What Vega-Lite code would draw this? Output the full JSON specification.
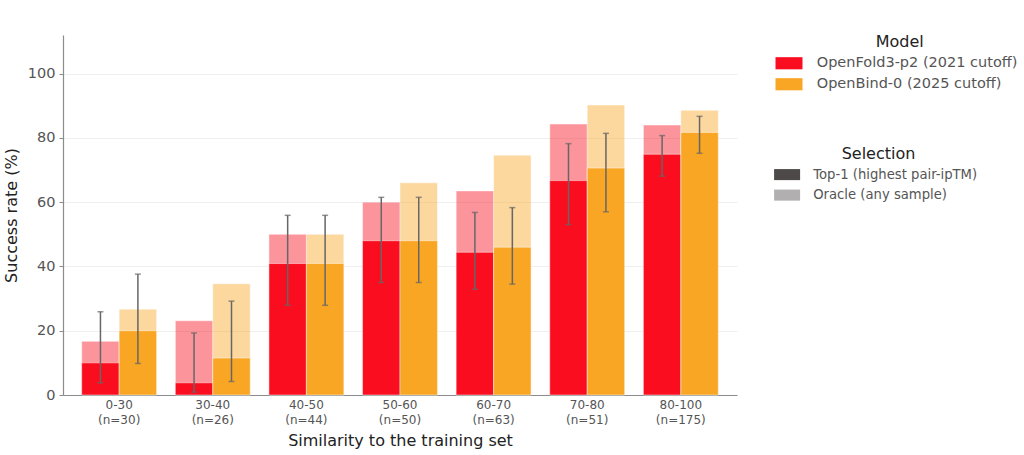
{
  "$schema": "https://vega.github.io/schema/vega-lite/v6.json",
  "width": 674,
  "height": 360,
  "autosize": "none",
  "padding": {"left": 63, "top": 35, "right": 287, "bottom": 60},
  "background": "white",
  "datasets": {
    "bars": [
      {"bin": "0-30 (n=30)", "model": "OpenFold3-p2 (2021 cutoff)", "sel": "Oracle (any sample)", "rate": 16.7},
      {"bin": "0-30 (n=30)", "model": "OpenBind-0 (2025 cutoff)", "sel": "Oracle (any sample)", "rate": 26.7},
      {"bin": "30-40 (n=26)", "model": "OpenFold3-p2 (2021 cutoff)", "sel": "Oracle (any sample)", "rate": 23.1},
      {"bin": "30-40 (n=26)", "model": "OpenBind-0 (2025 cutoff)", "sel": "Oracle (any sample)", "rate": 34.6},
      {"bin": "40-50 (n=44)", "model": "OpenFold3-p2 (2021 cutoff)", "sel": "Oracle (any sample)", "rate": 50.0},
      {"bin": "40-50 (n=44)", "model": "OpenBind-0 (2025 cutoff)", "sel": "Oracle (any sample)", "rate": 50.0},
      {"bin": "50-60 (n=50)", "model": "OpenFold3-p2 (2021 cutoff)", "sel": "Oracle (any sample)", "rate": 60.0},
      {"bin": "50-60 (n=50)", "model": "OpenBind-0 (2025 cutoff)", "sel": "Oracle (any sample)", "rate": 66.0},
      {"bin": "60-70 (n=63)", "model": "OpenFold3-p2 (2021 cutoff)", "sel": "Oracle (any sample)", "rate": 63.5},
      {"bin": "60-70 (n=63)", "model": "OpenBind-0 (2025 cutoff)", "sel": "Oracle (any sample)", "rate": 74.6},
      {"bin": "70-80 (n=51)", "model": "OpenFold3-p2 (2021 cutoff)", "sel": "Oracle (any sample)", "rate": 84.3},
      {"bin": "70-80 (n=51)", "model": "OpenBind-0 (2025 cutoff)", "sel": "Oracle (any sample)", "rate": 90.2},
      {"bin": "80-100 (n=175)", "model": "OpenFold3-p2 (2021 cutoff)", "sel": "Oracle (any sample)", "rate": 84.0},
      {"bin": "80-100 (n=175)", "model": "OpenBind-0 (2025 cutoff)", "sel": "Oracle (any sample)", "rate": 88.6},
      {"bin": "0-30 (n=30)", "model": "OpenFold3-p2 (2021 cutoff)", "sel": "Top-1 (highest pair-ipTM)", "rate": 10.0},
      {"bin": "0-30 (n=30)", "model": "OpenBind-0 (2025 cutoff)", "sel": "Top-1 (highest pair-ipTM)", "rate": 20.0},
      {"bin": "30-40 (n=26)", "model": "OpenFold3-p2 (2021 cutoff)", "sel": "Top-1 (highest pair-ipTM)", "rate": 3.8},
      {"bin": "30-40 (n=26)", "model": "OpenBind-0 (2025 cutoff)", "sel": "Top-1 (highest pair-ipTM)", "rate": 11.5},
      {"bin": "40-50 (n=44)", "model": "OpenFold3-p2 (2021 cutoff)", "sel": "Top-1 (highest pair-ipTM)", "rate": 40.9},
      {"bin": "40-50 (n=44)", "model": "OpenBind-0 (2025 cutoff)", "sel": "Top-1 (highest pair-ipTM)", "rate": 40.9},
      {"bin": "50-60 (n=50)", "model": "OpenFold3-p2 (2021 cutoff)", "sel": "Top-1 (highest pair-ipTM)", "rate": 48.0},
      {"bin": "50-60 (n=50)", "model": "OpenBind-0 (2025 cutoff)", "sel": "Top-1 (highest pair-ipTM)", "rate": 48.0},
      {"bin": "60-70 (n=63)", "model": "OpenFold3-p2 (2021 cutoff)", "sel": "Top-1 (highest pair-ipTM)", "rate": 44.4},
      {"bin": "60-70 (n=63)", "model": "OpenBind-0 (2025 cutoff)", "sel": "Top-1 (highest pair-ipTM)", "rate": 46.0},
      {"bin": "70-80 (n=51)", "model": "OpenFold3-p2 (2021 cutoff)", "sel": "Top-1 (highest pair-ipTM)", "rate": 66.7},
      {"bin": "70-80 (n=51)", "model": "OpenBind-0 (2025 cutoff)", "sel": "Top-1 (highest pair-ipTM)", "rate": 70.6},
      {"bin": "80-100 (n=175)", "model": "OpenFold3-p2 (2021 cutoff)", "sel": "Top-1 (highest pair-ipTM)", "rate": 74.9},
      {"bin": "80-100 (n=175)", "model": "OpenBind-0 (2025 cutoff)", "sel": "Top-1 (highest pair-ipTM)", "rate": 81.7}
    ],
    "errs": [
      {"bin": "0-30 (n=30)", "model": "OpenFold3-p2 (2021 cutoff)", "lo": 3.8, "hi": 25.9},
      {"bin": "0-30 (n=30)", "model": "OpenBind-0 (2025 cutoff)", "lo": 9.8, "hi": 37.6},
      {"bin": "30-40 (n=26)", "model": "OpenFold3-p2 (2021 cutoff)", "lo": 0.9, "hi": 19.3},
      {"bin": "30-40 (n=26)", "model": "OpenBind-0 (2025 cutoff)", "lo": 4.2, "hi": 29.2},
      {"bin": "40-50 (n=44)", "model": "OpenFold3-p2 (2021 cutoff)", "lo": 27.9, "hi": 55.9},
      {"bin": "40-50 (n=44)", "model": "OpenBind-0 (2025 cutoff)", "lo": 27.9, "hi": 55.9},
      {"bin": "50-60 (n=50)", "model": "OpenFold3-p2 (2021 cutoff)", "lo": 35.0, "hi": 61.5},
      {"bin": "50-60 (n=50)", "model": "OpenBind-0 (2025 cutoff)", "lo": 35.0, "hi": 61.5},
      {"bin": "60-70 (n=63)", "model": "OpenFold3-p2 (2021 cutoff)", "lo": 32.9, "hi": 56.8},
      {"bin": "60-70 (n=63)", "model": "OpenBind-0 (2025 cutoff)", "lo": 34.5, "hi": 58.3},
      {"bin": "70-80 (n=51)", "model": "OpenFold3-p2 (2021 cutoff)", "lo": 53.0, "hi": 78.2},
      {"bin": "70-80 (n=51)", "model": "OpenBind-0 (2025 cutoff)", "lo": 57.0, "hi": 81.4},
      {"bin": "80-100 (n=175)", "model": "OpenFold3-p2 (2021 cutoff)", "lo": 68.1, "hi": 80.7},
      {"bin": "80-100 (n=175)", "model": "OpenBind-0 (2025 cutoff)", "lo": 75.2, "hi": 86.7}
    ]
  },
  "encoding": {
    "x": {
      "field": "bin",
      "type": "nominal",
      "sort": null,
      "scale": {"paddingInner": 0.2, "paddingOuter": 0.2},
      "title": "Similarity to the training set",
      "axis": {
        "labelAngle": 0,
        "labelExpr": "split(datum.label, ' ')",
        "labelFontSize": 12,
        "labelLineHeight": 15,
        "labelColor": "#555555",
        "labelPadding": 4,
        "ticks": false,
        "domainColor": "#8c8c8c",
        "domainWidth": 1.2,
        "titleFontSize": 16,
        "titleFontWeight": "normal",
        "titleColor": "#222222",
        "titlePadding": 7
      }
    },
    "xOffset": {
      "field": "model",
      "type": "nominal",
      "sort": ["OpenFold3-p2 (2021 cutoff)", "OpenBind-0 (2025 cutoff)"],
      "scale": {"paddingInner": 0, "paddingOuter": 0}
    }
  },
  "layer": [
    {
      "data": {"name": "bars"},
      "mark": {"type": "bar", "stroke": "white", "strokeWidth": 0.8, "strokeOpacity": 0.6},
      "encoding": {
        "y": {
          "field": "rate",
          "type": "quantitative",
          "stack": null,
          "scale": {"domain": [0, 112], "nice": false},
          "title": "Success rate (%)",
          "axis": {
            "values": [0, 20, 40, 60, 80, 100],
            "labelFontSize": 14.5,
            "labelColor": "#555555",
            "labelPadding": 4,
            "tickSize": 4,
            "tickColor": "#8c8c8c",
            "domainColor": "#8c8c8c",
            "domainWidth": 1.2,
            "gridColor": "#ebebeb",
            "gridWidth": 0.8,
            "titleFontSize": 16,
            "titleFontWeight": "normal",
            "titleColor": "#222222",
            "titlePadding": 8
          }
        },
        "color": {
          "field": "model",
          "type": "nominal",
          "scale": {
            "domain": ["OpenFold3-p2 (2021 cutoff)", "OpenBind-0 (2025 cutoff)"],
            "range": ["#f90d1f", "#f9a624"]
          },
          "legend": {
            "title": "Model",
            "orient": "none",
            "legendX": 718.75,
            "legendY": -1,
            "titleAnchor": "middle",
            "titleFontSize": 16,
            "titleFontWeight": "normal",
            "titleColor": "#222222",
            "titlePadding": 6,
            "labelFontSize": 14.5,
            "labelColor": "#555555",
            "labelOffset": 20.5,
            "labelLimit": 300,
            "rowPadding": 6,
            "symbolType": "M-2,-0.9H2V0.9H-2Z",
            "symbolSize": 182,
            "symbolStrokeWidth": 0
          }
        },
        "opacity": {
          "field": "sel",
          "type": "nominal",
          "scale": {
            "domain": ["Top-1 (highest pair-ipTM)", "Oracle (any sample)"],
            "range": [1, 0.44]
          },
          "legend": {
            "title": "Selection",
            "orient": "none",
            "legendX": 717.5,
            "legendY": 111,
            "titleAnchor": "middle",
            "titleFontSize": 16,
            "titleFontWeight": "normal",
            "titleColor": "#222222",
            "titlePadding": 6,
            "labelFontSize": 13.2,
            "labelColor": "#555555",
            "labelOffset": 19.5,
            "labelLimit": 300,
            "rowPadding": 6.5,
            "symbolType": "M-2,-0.85H2V0.85H-2Z",
            "symbolSize": 169,
            "symbolFillColor": "#4d4948",
            "symbolStrokeWidth": 0
          }
        }
      }
    },
    {
      "data": {"name": "errs"},
      "mark": {"type": "rule", "color": "#666666", "strokeWidth": 1.5},
      "encoding": {
        "y": {"field": "lo", "type": "quantitative"},
        "y2": {"field": "hi"}
      }
    },
    {
      "data": {"name": "errs"},
      "mark": {"type": "tick", "color": "#666666", "size": 6, "thickness": 1.5},
      "encoding": {
        "y": {"field": "lo", "type": "quantitative"}
      }
    },
    {
      "data": {"name": "errs"},
      "mark": {"type": "tick", "color": "#666666", "size": 6, "thickness": 1.5},
      "encoding": {
        "y": {"field": "hi", "type": "quantitative"}
      }
    }
  ],
  "config": {
    "font": "DejaVu Sans",
    "view": {"stroke": null}
  }
}
